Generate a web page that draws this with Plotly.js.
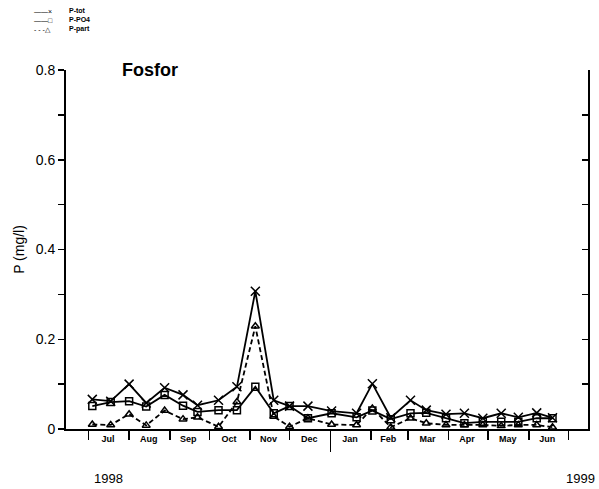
<!DOCTYPE html>
<html>
<head>
<meta charset="utf-8">
<script src="https://cdn.plot.ly/plotly-3.0.1.min.js"></script>
<style>html,body{margin:0;padding:0;background:#fff;}#chart{width:599px;height:489px;}</style>
</head>
<body>
<div id="chart"></div>
<script>
// ---- data ----
const sampleDates = ['1998-07-04','1998-07-18','1998-08-01','1998-08-14','1998-08-28','1998-09-11','1998-09-22','1998-10-08','1998-10-22','1998-11-05','1998-11-19','1998-12-01','1998-12-15','1999-01-02','1999-01-21','1999-02-02','1999-02-16','1999-03-03','1999-03-15','1999-03-30','1999-04-13','1999-04-27','1999-05-11','1999-05-24','1999-06-07','1999-06-19'];
const pTot  = [0.066,0.062,0.100,0.058,0.092,0.076,0.053,0.064,0.094,0.307,0.064,0.051,0.051,0.040,0.035,0.101,0.025,0.064,0.042,0.033,0.035,0.024,0.035,0.026,0.036,0.025];
const pPO4  = [0.051,0.060,0.062,0.050,0.076,0.052,0.038,0.042,0.042,0.094,0.035,0.051,0.024,0.035,0.026,0.041,0.022,0.035,0.036,0.024,0.013,0.016,0.016,0.016,0.024,0.024];
const pPart = [0.010,0.009,0.033,0.008,0.041,0.022,0.026,0.005,0.060,0.229,0.028,0.005,0.024,0.010,0.009,0.046,0.004,0.024,0.013,0.009,0.009,0.009,0.007,0.009,0.009,0.004];
const seriesNames = ['P-tot','P-PO4','P-part'];
const legendGlyphs = ['\u2014\u2014\u00d7','\u2014\u2014\u25a1','- - -\u25b3'];
const monthMids = ['1998-07-16','1998-08-16','1998-09-15','1998-10-16','1998-11-15','1998-12-16','1999-01-16','1999-02-14','1999-03-16','1999-04-15','1999-05-16','1999-06-15'];
const monthLabels = ['Jul','Aug','Sep','Oct','Nov','Dec','Jan','Feb','Mar','Apr','May','Jun'];
const yearBoundary = ['1999-01-01'];
const yearLabels = ['1998','1999'];
const xRange = ['1998-06-14','1999-07-16'];

const values = [pTot, pPO4, pPart];
const symbols = ['x-thin-open','square-open','triangle-up-open'];
const sizes = [9,7,7];
const dashes = ['solid','solid','5px,3px'];

const traces = values.map((v,i)=>({
  type:'scatter', mode:'lines+markers', name:seriesNames[i],
  x:sampleDates, y:v, showlegend:false,
  line:{color:'#000', width:1.8, dash:dashes[i]},
  marker:{symbol:symbols[i], size:sizes[i], color:'#000', line:{color:'#000', width:1.5}}
}));
// empty helper traces so the overlaid tick-only axes get drawn
traces.push({type:'scatter', mode:'markers', x:[], y:[], xaxis:'x2', yaxis:'y', showlegend:false, hoverinfo:'skip'});
traces.push({type:'scatter', mode:'markers', x:[], y:[], xaxis:'x3', yaxis:'y', showlegend:false, hoverinfo:'skip'});
traces.push({type:'scatter', mode:'markers', x:[], y:[], xaxis:'x', yaxis:'y2', showlegend:false, hoverinfo:'skip'});

const FONT = 'Liberation Sans, Arial, sans-serif';

const annotations = [
  {xref:'paper', yref:'paper', x:(108-66)/522, y:-49/359, xanchor:'center', yanchor:'middle', text:yearLabels[0], showarrow:false, font:{family:FONT, size:13, color:'#000'}},
  {xref:'paper', yref:'paper', x:(597-66)/522, y:-49/359, xanchor:'right', yanchor:'middle', text:yearLabels[1], showarrow:false, font:{family:FONT, size:13, color:'#000'}},
  // small legend block (line samples + names), as two multi-line texts
  {xref:'paper', yref:'paper', x:(33-66)/522, y:(429-20)/359, xanchor:'left', yanchor:'middle', align:'left',
    text:legendGlyphs.join('<br>'), showarrow:false, borderpad:0, font:{family:FONT, size:7, color:'#000'}},
  {xref:'paper', yref:'paper', x:(68-66)/522, y:(429-20)/359, xanchor:'left', yanchor:'middle', align:'left',
    text:seriesNames.map(n=>'<b>'+n+'</b>').join('<br>'), showarrow:false, borderpad:0, font:{family:FONT, size:7, color:'#000'}}
];

const layout = {
  width:599, height:489,
  margin:{l:66, r:11, t:70, b:60},
  paper_bgcolor:'#fff', plot_bgcolor:'#fff',
  title:{text:'<b>Fosfor</b>', x:122/599, xanchor:'left', xref:'container', y:1-70/489, yref:'container', yanchor:'middle', font:{family:FONT, size:18, color:'#000'}},
  xaxis:{type:'date', range:xRange, showgrid:false, zeroline:false,
    showline:true, linecolor:'#000', linewidth:2,
    tickmode:'array', tickvals:monthMids, ticktext:monthLabels, ticks:'',
    tickfont:{family:FONT, size:9, color:'#000', weight:'bold'}},
  xaxis2:{type:'date', range:xRange, overlaying:'x', anchor:'y', side:'bottom', showgrid:false, zeroline:false, showline:false,
    tickmode:'linear', tick0:'1998-07-01', dtick:'M1', ticks:'outside', ticklen:10, tickwidth:1.5, tickcolor:'#000', showticklabels:false},
  xaxis3:{type:'date', range:xRange, overlaying:'x', anchor:'y', side:'bottom', showgrid:false, zeroline:false, showline:false,
    tickmode:'array', tickvals:yearBoundary, ticks:'outside', ticklen:22, tickwidth:1.5, tickcolor:'#000', showticklabels:false},
  yaxis:{range:[0,0.8], dtick:0.2, showgrid:false, zeroline:false,
    showline:true, linecolor:'#000', linewidth:2,
    ticks:'outside', ticklen:6, tickwidth:1.5, tickcolor:'#000',
    minor:{dtick:0.1, ticks:'outside', ticklen:6, tickwidth:1.5, tickcolor:'#000', showgrid:false},
    tickfont:{family:FONT, size:14, color:'#000'},
    title:{text:'P (mg/l)', font:{family:FONT, size:14, color:'#000'}, standoff:8}},
  yaxis2:{range:[0,0.8], overlaying:'y', side:'right', anchor:'x', showgrid:false, zeroline:false,
    showline:true, linecolor:'#000', linewidth:2,
    tickmode:'linear', tick0:0, dtick:0.1, ticks:'inside', ticklen:6, tickwidth:1.5, tickcolor:'#000', showticklabels:false},
  annotations:annotations
};

Plotly.newPlot('chart', traces, layout, {displayModeBar:false, staticPlot:true});
</script>
</body>
</html>
